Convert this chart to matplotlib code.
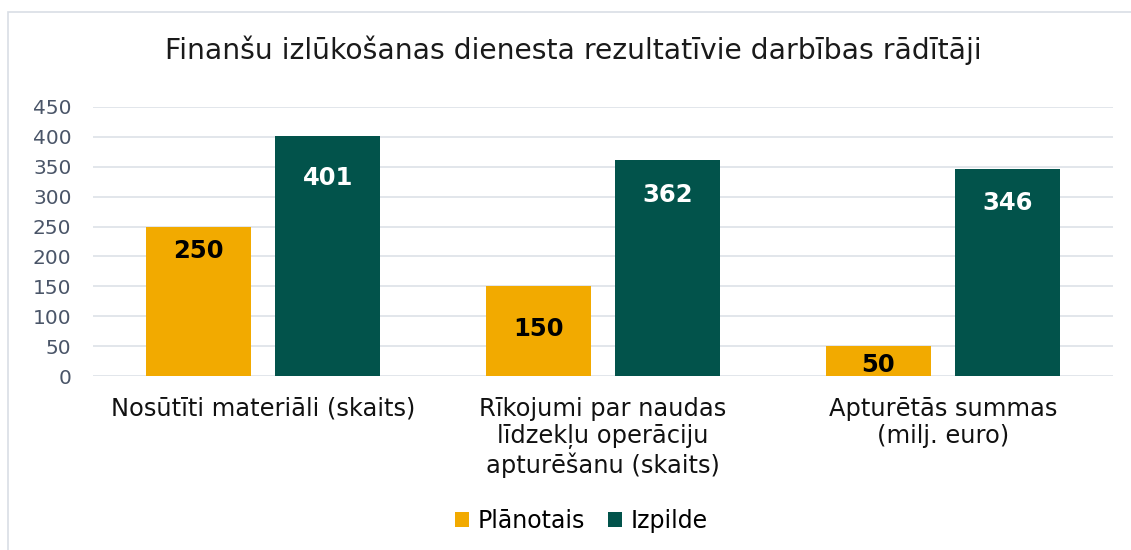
import matplotlib.pyplot as plt
import matplotlib.patches as patches
import numpy as np

# Chart data
categories = [
    "Nosūtīti materiāli (skaits)",
    "Rīkojumi par naudas\nlīdzekļu operāciju\napturēšanu (skaits)",
    "Apturētās summas\n(milj. euro)",
]
planned = [250, 150, 50]
actual = [401, 362, 346]
series_names = ["Plānotais", "Izpilde"]
title = "Finanšu izlūkošanas dienesta rezultatīvie darbības rādītāji"

# Colours
ORANGE = "#F2AA00"
GREEN = "#02534B"
TICK_COLOR = "#4A5568"
GRID_COLOR = "#DDE1E8"

plt.rcParams['font.family'] = ['DejaVu Sans']

fig = plt.figure(figsize=(11.31, 5.5), dpi=100)
ax = fig.add_axes([93 / 1131, 1 - 376 / 550, (1113 - 93) / 1131, (376 - 107) / 550])

# Light frame around the chart area
fig.patches.append(patches.Rectangle((8 / 1131, -0.05), 1.1, 1 - 12 / 550 + 0.05,
                                     transform=fig.transFigure, fill=False,
                                     edgecolor="#D9DEE5", linewidth=1.2))

x = np.arange(len(categories))
width = 0.309
offset = 0.191
bars_p = ax.bar(x - offset, planned, width, color=ORANGE, label=series_names[0], zorder=3)
bars_a = ax.bar(x + offset, actual, width, color=GREEN, label=series_names[1], zorder=3)

# Value labels (pixel distance from the bar top, as in the original)
planned_lbl_off = [24, 43, 19]
actual_lbl_off = [42, 35, 34]
for bar, off in zip(bars_p, planned_lbl_off):
    ax.annotate(f"{int(bar.get_height())}", (bar.get_x() + bar.get_width() / 2, bar.get_height()),
                xytext=(0, -off * 0.72), textcoords="offset points", ha="center", va="center",
                fontsize=17.5, fontweight="bold", color="black", zorder=4)
for bar, off in zip(bars_a, actual_lbl_off):
    ax.annotate(f"{int(bar.get_height())}", (bar.get_x() + bar.get_width() / 2, bar.get_height()),
                xytext=(0, -off * 0.72), textcoords="offset points", ha="center", va="center",
                fontsize=17.5, fontweight="bold", color="white", zorder=4)

ax.set_xlim(-0.5, 2.5)
ax.set_ylim(0, 450)
ax.set_yticks(range(0, 451, 50))
ax.grid(axis="y", color=GRID_COLOR, linewidth=1.2, zorder=0)
for s in ax.spines.values():
    s.set_visible(False)
ax.tick_params(axis="y", length=0, labelsize=14.5, labelcolor=TICK_COLOR, pad=15.5)
ax.tick_params(axis="x", length=0, labelsize=17.4, pad=15)
ax.set_xticks(x)
ax.set_xticklabels(categories, linespacing=1.17, va="top", color="#111111")

fig.text(0.507, 1 - 50 / 550, title, ha="center", va="center", fontsize=20.3, color="#1a1a1a")

fig.legend(loc="center", bbox_to_anchor=(0.514, 1 - 521 / 550), ncol=2, frameon=False,
           fontsize=17, handlelength=0.6, handleheight=0.6, handletextpad=0.35,
           columnspacing=1.0)

fig.savefig("out.png", dpi=100)
